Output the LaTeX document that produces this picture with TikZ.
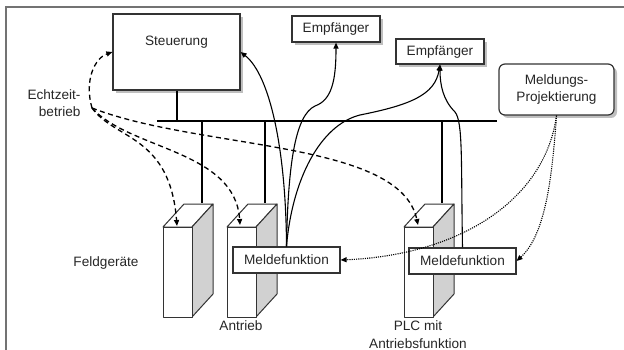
\documentclass[tikz,border=0pt]{standalone}
\usepackage{fontspec}
\setmainfont{Liberation Sans}
\usetikzlibrary{arrows.meta,shadows}
\begin{document}
\begin{tikzpicture}[x=1pt,y=-1pt,
  every node/.style={font=\fontsize{13.6}{17.5}\selectfont, text=black!85},
  box/.style={draw=black!80, line width=1.2pt, fill=white, inner sep=0pt},
  shadowed/.style={drop shadow={shadow xshift=3pt, shadow yshift=-3pt, fill=black!25, opacity=1}},
  busline/.style={line width=2pt, black},
  tipA/.style={-{Triangle[length=6pt,width=5pt]}},
  sig/.style={line width=1.1pt, black, tipA},
  rtline/.style={line width=1.3pt, black, dash pattern=on 5pt off 3.5pt, tipA},
  cfgline/.style={line width=1.1pt, black, dash pattern=on 1.1pt off 1.1pt, tipA},
  frontface/.style={draw=black!80, line width=1pt, fill=white, line join=round},
  sideface/.style={draw=black!80, line width=1pt, fill=black!18, line join=round},
  device/.pic={
    \path[frontface] (21,-23) -- (50,-23) -- (29,0) -- (0,0) -- cycle;
    \path[sideface] (29,0) -- (50,-23) -- (50,67) -- (29,90) -- cycle;
    \path[frontface] (0,0) rectangle (29,90);
  }
]
\useasboundingbox (0,0) rectangle (624,350);

% frame lines
\draw[black!55, line width=1.5pt] (6,350) -- (6,7) -- (624,7);

% boxes
\node[box, shadowed, minimum width=127pt, minimum height=76pt] (steu) at (176.5,52) {};
\node (steutext) at (176.5,42) {Steuerung};
\node[box, shadowed, minimum width=88pt, minimum height=26pt] (emp1) at (336,29) {Empfänger};
\node[box, shadowed, minimum width=88pt, minimum height=25pt] (emp2) at (440,51.5) {Empfänger};
\node[box, shadowed, rounded corners=6pt, minimum width=115pt, minimum height=51pt, align=center] (proj) at (556.5,89.5) {Meldungs-\\Projektierung};

% bus with stem and drops
\coordinate (busL) at (157,121);
\coordinate (busR) at (497,121);
\coordinate (stem) at (177,121);
\coordinate (tap1) at (202,121);
\coordinate (tap2) at (265,121);
\coordinate (tap3) at (442,121);
\coordinate (top1) at (202,203);
\coordinate (top2) at (265,203);
\coordinate (top3) at (442,203);
\draw[busline] (busL) -- (busR);
\draw[busline] (steu.south -| stem) -- (stem);
\draw[busline] (tap1) -- (top1);
\draw[busline] (tap2) -- (top2);
\draw[busline] (tap3) -- (top3);

% field devices
\pic at (163,227) {device};
\pic at (227,227) {device};
\pic at (404,227) {device};

% message function boxes
\node[box, minimum width=107pt, minimum height=26pt] (mf1) at (286.5,260) {Meldefunktion};
\node[box, minimum width=107pt, minimum height=26pt] (mf2) at (462.5,261) {Meldefunktion};

% labels
\node[align=right, anchor=east] (echt) at (84,103) {Echtzeit-\\betrieb};
\node (feld) at (106,263) {Feldgeräte};
\node (antr) at (241,326) {Antrieb};
\node[align=center] (plc) at (418,334.5) {PLC mit\\Antriebsfunktion};

% message paths to the receivers
\draw[sig] (mf1.north) .. controls (286,150) and (270,75) .. (steu.east);
\draw[sig] (mf1.north) .. controls (288,160) and (296,115) .. (315,106)
                       .. controls (332,100) and (336,80) .. (emp1.south);
\draw[sig] (mf1.north) .. controls (292,180) and (320,125) .. (360,115)
                       .. controls (410,105) and (435,95) .. (emp2.south);
\draw[sig] (mf2.north) .. controls (461,160) and (463,122) .. (455,112)
                       .. controls (443,100) and (440,85) .. (emp2.south);

% real-time traffic
\coordinate (rt) at (92,108);
\coordinate (in1) at (177,226);
\coordinate (in2) at (240,225);
\coordinate (in3) at (418,225);
\draw[rtline] (rt) .. controls (84,80) and (95,58) .. (steu.west);
\draw[rtline] (rt) .. controls (115,140) and (170,135) .. (in1);
\draw[rtline] (rt) .. controls (130,150) and (235,150) .. (in2);
\draw[rtline] (rt) .. controls (200,150) and (400,140) .. (in3);

% configuration of the message functions
\draw[cfgline] (proj.south) .. controls (552,180) and (545,235) .. (mf2.east);
\draw[cfgline] (proj.south) .. controls (545,200) and (460,255) .. (mf1.east);
\end{tikzpicture}
\end{document}
